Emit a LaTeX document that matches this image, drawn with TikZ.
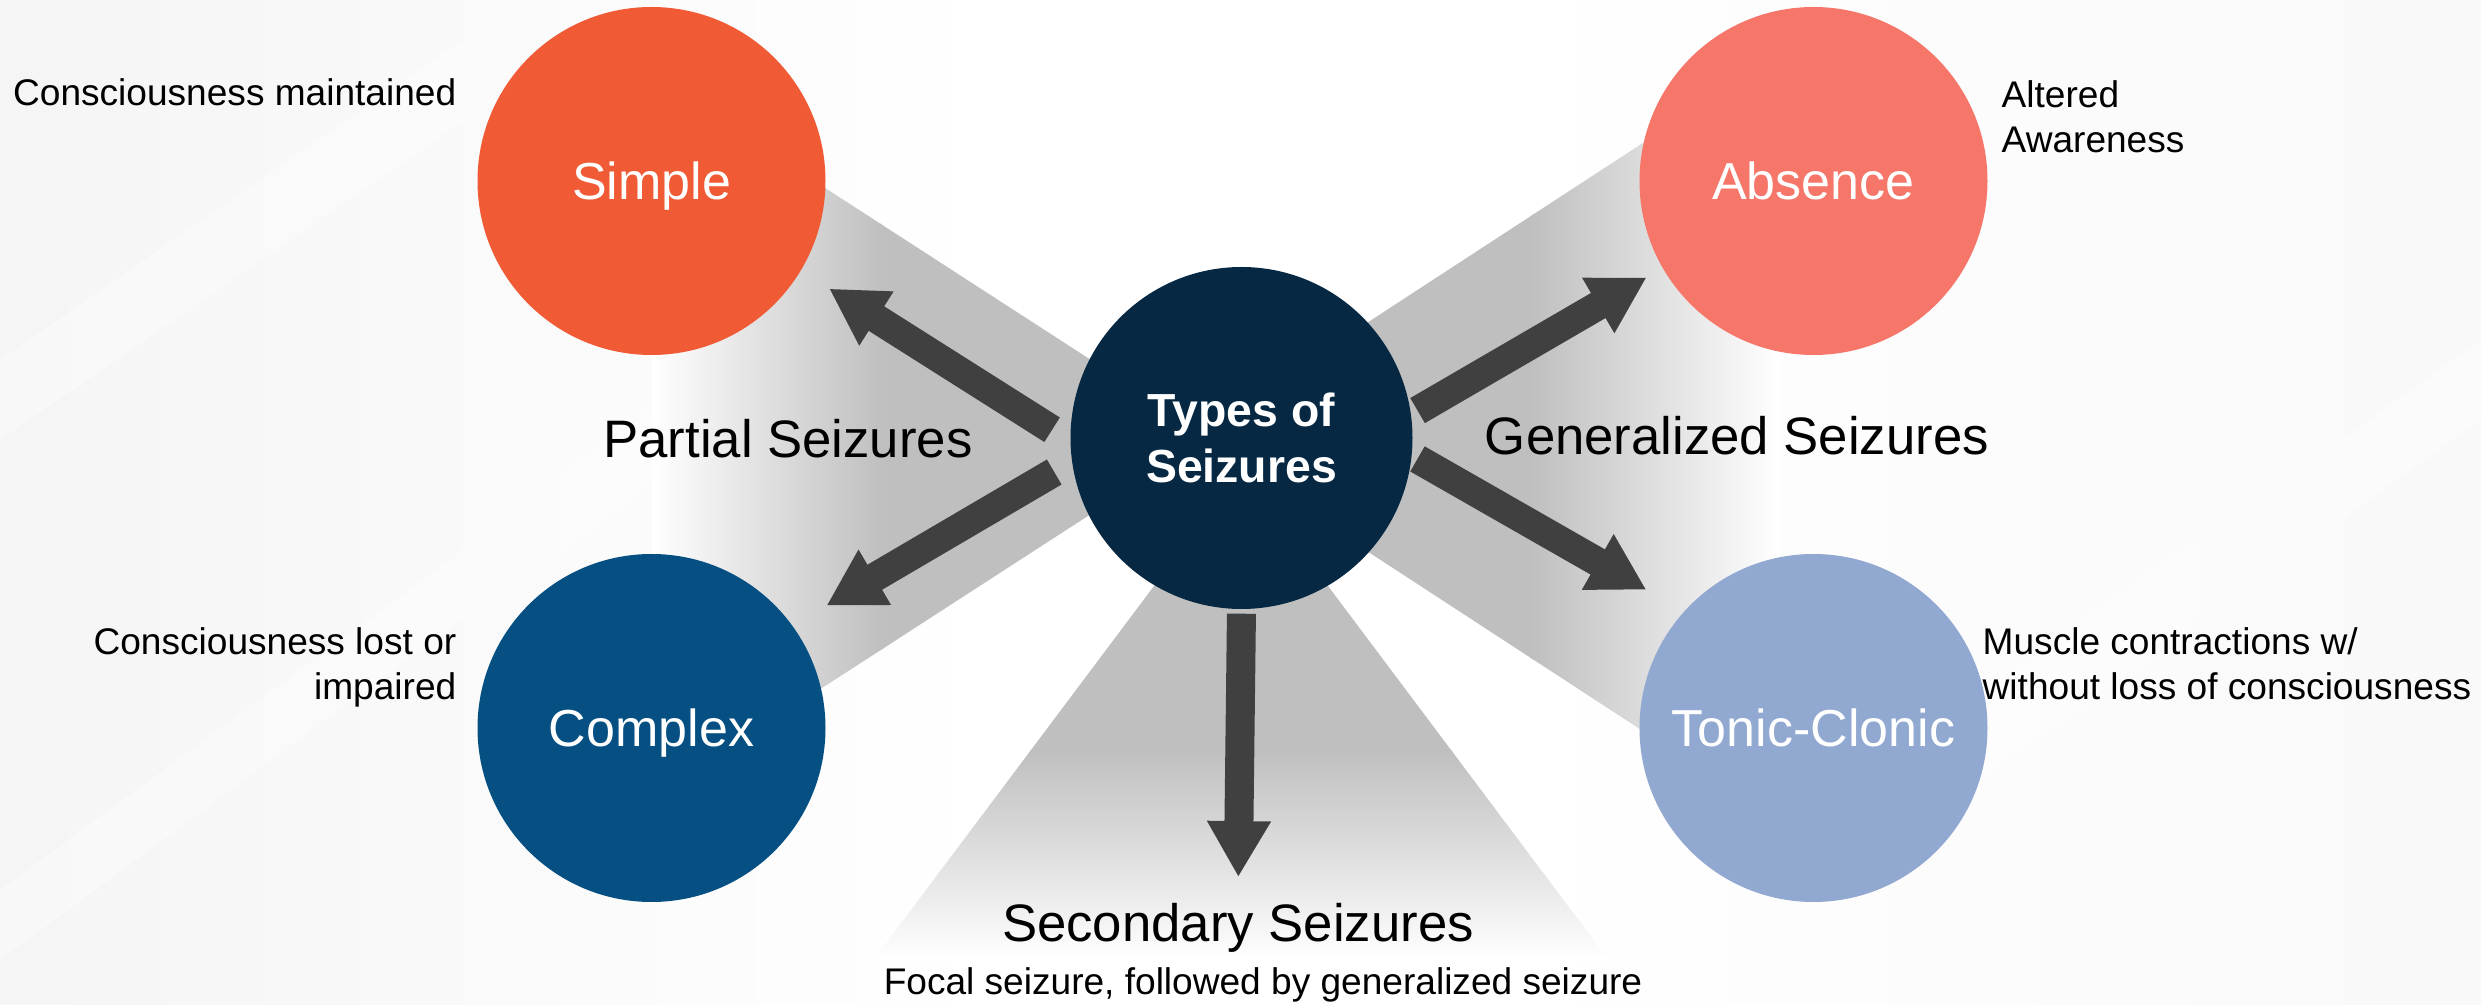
\documentclass[tikz,border=0pt]{standalone}
\usepackage{fontspec}
\setmainfont{Liberation Sans}
\usetikzlibrary{positioning,arrows.meta}

\definecolor{simplecol}{HTML}{F05B35}
\definecolor{complexcol}{HTML}{054F82}
\definecolor{absencecol}{HTML}{F6766A}
\definecolor{toniccol}{HTML}{91A8D0}
\definecolor{typescol}{HTML}{062842}
\definecolor{arrowcol}{HTML}{404040}
\definecolor{beamcol}{HTML}{BFBFBF}

\begin{document}
\begin{tikzpicture}[node distance=5.9cm]
\tikzstyle{kind} = [circle, minimum size=3.48cm, inner sep=0pt, text depth=0pt, text=white, font=\fontsize{14.8}{17.8}\selectfont]
\tikzstyle{hub} = [circle, minimum size=3.42cm, inner sep=0pt, fill=typescol, text=white, align=center, font=\fontsize{13.2}{15.9}\selectfont\bfseries]
\tikzstyle{group} = [anchor=base, inner sep=0pt, font=\fontsize{15}{18}\selectfont]
\tikzstyle{note} = [inner sep=0pt, font=\fontsize{10.55}{12.8}\selectfont]
\tikzstyle{arrow} = [line width=0.29cm, draw=arrowcol, -{Triangle[length=0.56cm, width=0.60cm]}]
%
\useasboundingbox (0,0) rectangle (24.81,-10.05);
% background
\fill[white] (0,0) rectangle (24.81,-10.05);
\shade[left color=gray!8, right color=white] (0,0) rectangle (10,-10.05);
\shade[left color=white, right color=gray!5] (15,0) rectangle (24.81,-10.05);
\fill[white, opacity=0.35] (0,-8.9) -- (10.5,-1.2) -- (11.4,-1.2) -- (0,-9.6) -- cycle;
\fill[white, opacity=0.35] (0,-3.6) -- (5.2,0) -- (6.4,0) -- (0,-4.4) -- cycle;
\fill[white, opacity=0.35] (15.5,-10.05) -- (24.81,-3.4) -- (24.81,-4.2) -- (16.6,-10.05) -- cycle;
%
% grey beams behind the circles
\fill[beamcol] (12.10,-4.37) -- (8.80,-2.235) -- (8.80,-6.505) -- cycle;
\shade[left color=white, right color=beamcol] (6.52,-0.76) -- (8.84,-2.261) -- (8.84,-6.479) -- (6.52,-7.98) -- cycle;
\fill[beamcol] (11.92,-4.37) -- (15.34,-2.14) -- (15.34,-6.60) -- cycle;
\shade[left color=beamcol, right color=white] (15.30,-2.166) -- (17.80,-0.536) -- (17.80,-8.204) -- (15.30,-6.574) -- cycle;
\fill[beamcol] (12.41,-4.70) -- (10.295,-7.52) -- (14.525,-7.52) -- cycle;
\shade[top color=beamcol, bottom color=white] (10.31,-7.50) -- (14.51,-7.50) -- (16.085,-9.60) -- (8.735,-9.60) -- cycle;
%
\node (types)   [hub] at (12.415,-4.38)                                  {Types of\\Seizures};
\node (simple)  [kind, fill=simplecol,  left of=types,  yshift=2.57cm]              {Simple};
\node (complex) [kind, fill=complexcol, left of=types,  yshift=-2.90cm]             {Complex};
\node (absence) [kind, fill=absencecol, right of=types, xshift=-0.18cm, yshift=2.57cm]  {Absence};
\node (tonic)   [kind, fill=toniccol,   right of=types, xshift=-0.18cm, yshift=-2.90cm] {Tonic-Clonic};
%
\node (partial)   [group] at (7.88,-4.58)  {Partial Seizures};
\node (general)   [group] at (17.37,-4.55) {Generalized Seizures};
\node (secondary) [group] at (12.38,-9.42) {Secondary Seizures};
\node (focal)     [note, anchor=base] at (12.63,-9.95) {Focal seizure, followed by generalized seizure};
%
\node (simplenote)  [note, anchor=base east]              at (4.57,-1.06)   {Consciousness maintained};
\node (complexnote) [note, align=right, anchor=north east] at (4.57,-6.27)   {Consciousness lost or\\impaired};
\node (absencenote) [note, align=left, anchor=north west]  at (20.01,-0.795) {Altered\\Awareness};
\node (tonicnote)   [note, align=left, anchor=north west]  at (19.82,-6.265) {Muscle contractions w/\\without loss of consciousness};
%
\draw [arrow, shorten <=0.21cm, shorten >=0.33cm] (types.181)   -- (simple.-31);
\draw [arrow, shorten <=0.20cm, shorten >=0.39cm] (types.188)   -- (complex.36.5);
\draw [arrow, shorten <=0.07cm, shorten >=0.18cm] (types.8)     -- (absence.210);
\draw [arrow, shorten <=0.06cm, shorten >=0.43cm] (types.-6)    -- (tonic.138);
\draw [arrow, shorten <=0.04cm, shorten >=0.26cm] (types.south) -- (secondary.north);
\end{tikzpicture}
\end{document}
